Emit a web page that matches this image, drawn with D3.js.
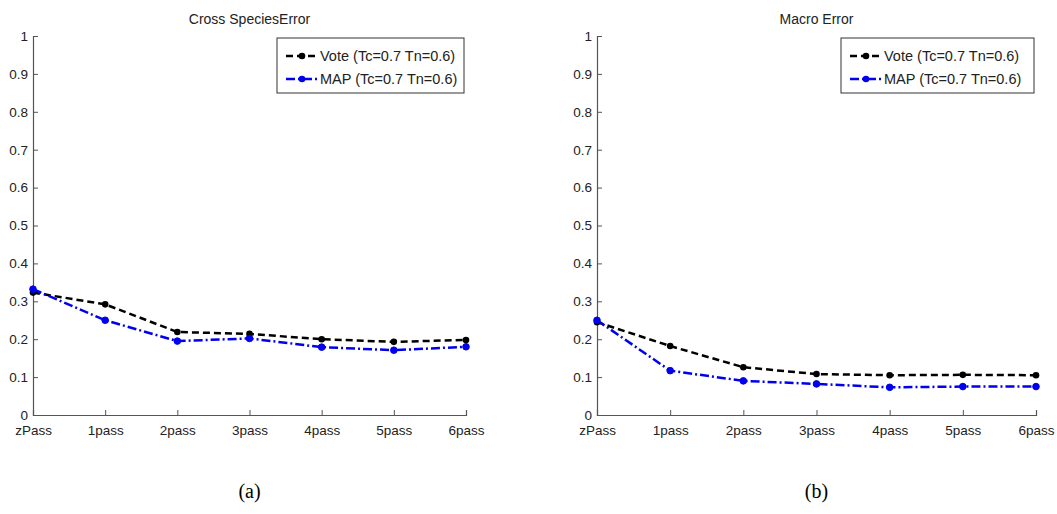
<!DOCTYPE html>
<html><head><meta charset="utf-8">
<script src="https://cdn.jsdelivr.net/npm/d3@7"></script>
<style>body{margin:0;background:#fff}svg{display:block}</style>
</head><body>
<script>
const categories = ["zPass","1pass","2pass","3pass","4pass","5pass","6pass"];
const yTicks = [0,0.1,0.2,0.3,0.4,0.5,0.6,0.7,0.8,0.9,1];
const leftTitle = "Cross SpeciesError";
const rightTitle = "Macro Error";
const leftVote = [0.323,0.292,0.219,0.214,0.200,0.193,0.198];
const leftMAP  = [0.332,0.250,0.195,0.202,0.179,0.171,0.180];
const rightVote = [0.245,0.182,0.126,0.108,0.105,0.106,0.105];
const rightMAP  = [0.250,0.117,0.090,0.082,0.073,0.075,0.075];
const legendLabels = ["Vote (Tc=0.7 Tn=0.6)","MAP (Tc=0.7 Tn=0.6)"];
const captions = ["(a)","(b)"];

const svg = d3.select("body").append("svg").attr("width",1057).attr("height",514);
const font = "'Liberation Sans', Arial, sans-serif";

function panel(x0, x1, title, vote, map, legX, caption) {
  const x = d3.scalePoint().domain(categories).range([x0, x1]);
  const y = d3.scaleLinear().domain([0,1]).range([415, 36]);
  const g = svg.append("g");
  const axisCol = "#555";
  const ya = g.append("g").attr("transform",`translate(${x0},0)`)
    .call(d3.axisLeft(y).tickValues(yTicks).tickSize(-5).tickPadding(5).tickFormat(d=>d===0?"0":d===1?"1":d3.format(".1f")(d)));
  const xa = g.append("g").attr("transform",`translate(0,415)`)
    .call(d3.axisBottom(x).tickSize(-5).tickPadding(10));
  [ya,xa].forEach(a=>{
    a.select(".domain").attr("stroke",axisCol).attr("stroke-width",1.2);
    a.selectAll(".tick line").attr("stroke",axisCol);
    a.selectAll("text").attr("font-family",font).attr("font-size",13.5).attr("fill","#222");
  });
  xa.selectAll(".tick line").filter(d=>d===categories[0]).remove();
  ya.selectAll(".tick line").filter(d=>d===0).remove();
  g.append("text").attr("x",(x0+x1)/2).attr("y",24).attr("text-anchor","middle")
    .attr("font-family",font).attr("font-size",14).attr("fill","#222").text(title);

  const line = d3.line().x((d,i)=>x(categories[i])).y(d=>y(d));
  g.append("path").datum(vote).attr("d",line).attr("fill","none").attr("stroke","#000")
    .attr("stroke-width",2.5).attr("stroke-dasharray","7,4");
  g.append("path").datum(map).attr("d",line).attr("fill","none").attr("stroke","#0000ee")
    .attr("stroke-width",2.5).attr("stroke-dasharray","9,3,2,3");
  g.selectAll(".mv").data(vote).enter().append("circle")
    .attr("cx",(d,i)=>x(categories[i])).attr("cy",d=>y(d)).attr("r",3.3).attr("fill","#000");
  g.selectAll(".mm").data(map).enter().append("circle")
    .attr("cx",(d,i)=>x(categories[i])).attr("cy",d=>y(d)).attr("r",3.3)
    .attr("fill","#0000ee").attr("stroke","#0000ee").attr("stroke-width",1);

  const lw = x1 - legX - 2, ly = 38;
  g.append("rect").attr("x",legX).attr("y",ly).attr("width",lw).attr("height",55)
    .attr("fill","#fff").attr("stroke","#333").attr("stroke-width",1);
  const rows = [{c:"#000",d:"7,4",lab:legendLabels[0]},{c:"#0000ee",d:"9,3,2,3",lab:legendLabels[1]}];
  rows.forEach((r,i)=>{
    const yy = ly + 18 + i*23;
    g.append("line").attr("x1",legX+9).attr("x2",legX+41).attr("y1",yy).attr("y2",yy)
      .attr("stroke",r.c).attr("stroke-width",2.5).attr("stroke-dasharray",r.d);
    g.append("circle").attr("cx",legX+25).attr("cy",yy).attr("r",3.3).attr("fill",r.c);
    g.append("text").attr("x",legX+43).attr("y",yy+5).attr("font-family",font)
      .attr("font-size",14.5).attr("fill","#222").text(r.lab);
  });
  svg.append("text").attr("x",(x0+x1)/2).attr("y",498).attr("text-anchor","middle")
    .attr("font-family","'Liberation Serif', 'DejaVu Serif', serif").attr("font-size",20).attr("fill","#000").text(caption);
}
panel(33, 466, leftTitle, leftVote, leftMAP, 277, captions[0]);
panel(597, 1036, rightTitle, rightVote, rightMAP, 841, captions[1]);
</script>
</body></html>
